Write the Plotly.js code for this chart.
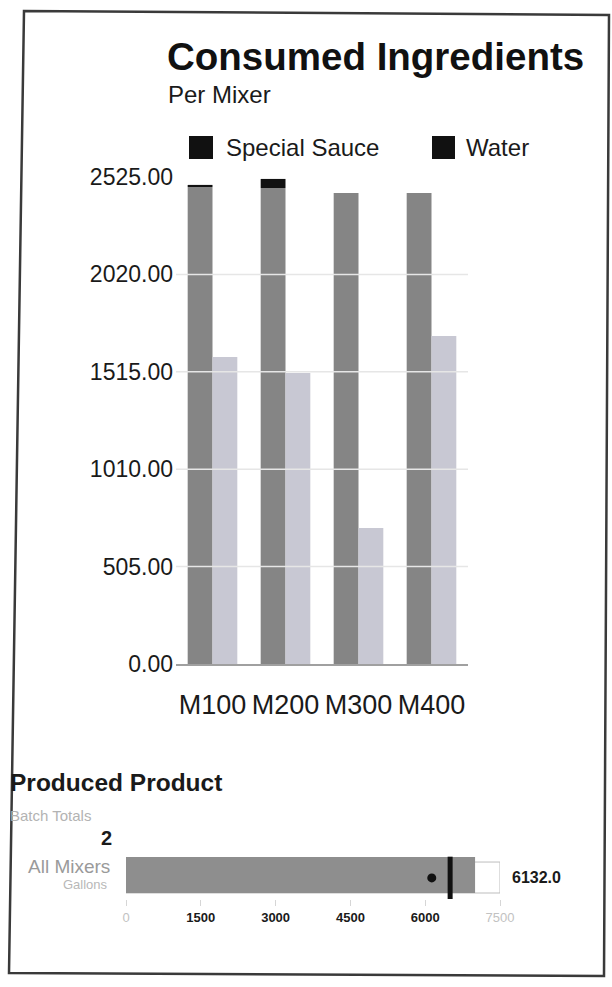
<!DOCTYPE html>
<html>
<head>
<meta charset="utf-8">
<script src="https://cdn.plot.ly/plotly-3.0.1.min.js"></script>
<style>
  html, body { margin: 0; padding: 0; background: #ffffff; }
  #chart { width: 612px; height: 987px; }
</style>
</head>
<body>
<div id="chart"></div>
<script>
// ---- data ----
const mixers = ["M100", "M200", "M300", "M400"];
const sauceValues = [2473, 2468, 2442, 2442];
const sauceTopValues = [11, 47, 0, 0];
const waterValues = [1592, 1509, 705, 1701];
const yTickVals = [0, 505, 1010, 1515, 2020, 2525];

const bulletCategory = ["All Mixers"];
const producedValue = [6132];
const producedBar = [7000];
const rangeMax = [7500];
const targetValue = [6500];
const bulletTickVals = [0, 1500, 3000, 4500, 6000, 7500];
const bulletTickText = ["0", "1500", "3000", "4500", "6000", "7500"];
const batchTotal = "2";

const FONT = "Liberation Sans, Arial, Helvetica, sans-serif";
const W = 612, H = 987;
const px = x => x / W;
const py = y => 1 - y / H;

const traces = [
  {
    type: "bar", name: "Special Sauce", x: mixers, y: sauceValues,
    offsetgroup: "sauce", marker: { color: "#858585" },
    xaxis: "x", yaxis: "y", showlegend: false
  },
  {
    type: "bar", name: "Special Sauce (top)", x: mixers, y: sauceTopValues, base: sauceValues,
    offsetgroup: "sauce", marker: { color: "#111111" },
    xaxis: "x", yaxis: "y", showlegend: false
  },
  {
    type: "bar", name: "Water", x: mixers, y: waterValues,
    offsetgroup: "water", marker: { color: "#c8c8d3" },
    xaxis: "x", yaxis: "y", showlegend: false
  },
  // bullet chart
  {
    type: "bar", orientation: "h", x: rangeMax, y: bulletCategory.map(() => 0),
    offsetgroup: "bullet", offset: -0.75, width: 1.29,
    marker: { color: "#ffffff", line: { color: "#bdbdbd", width: 1 } },
    xaxis: "x2", yaxis: "y2", showlegend: false
  },
  {
    type: "bar", orientation: "h", x: producedBar, y: bulletCategory.map(() => 0),
    offsetgroup: "bullet", offset: -0.75, width: 1.5,
    marker: { color: "#8e8e8e" },
    xaxis: "x2", yaxis: "y2", showlegend: false
  },
  {
    type: "scatter", mode: "markers", x: targetValue, y: [-0.17],
    marker: { symbol: "line-ns", size: 32, line: { color: "#111111", width: 5 } },
    xaxis: "x2", yaxis: "y2", showlegend: false
  },
  {
    type: "scatter", mode: "markers", x: producedValue, y: [-0.12],
    marker: { symbol: "circle", size: 9, color: "#111111" },
    xaxis: "x2", yaxis: "y2", showlegend: false
  }
];

const gridShapes = yTickVals.slice(1, 5).map(v => ({
  type: "line", xref: "paper", yref: "y", x0: px(176), x1: px(468), y0: v, y1: v,
  line: { color: "#e6e6e6", width: 1.5 }, layer: "above"
}));

const framePath = "M " + px(24) + "," + py(11) + " L " + px(609) + "," + py(15) +
  " L " + px(604) + "," + py(976) + " L " + px(9) + "," + py(973) + " Z";

const shapes = gridShapes.concat([
  { type: "rect", xref: "paper", yref: "paper", x0: px(189), x1: px(213), y0: py(159), y1: py(136),
    fillcolor: "#111111", line: { width: 0 } },
  { type: "rect", xref: "paper", yref: "paper", x0: px(432), x1: px(455), y0: py(159), y1: py(136),
    fillcolor: "#111111", line: { width: 0 } },
  { type: "path", xref: "paper", yref: "paper", path: framePath,
    line: { color: "#3a3a3a", width: 2.5 }, fillcolor: "rgba(0,0,0,0)" }
]);

const ann = (text, x, y, size, opts) => Object.assign({
  text: text, xref: "paper", yref: "paper", x: x, y: y, xanchor: "left", yanchor: "middle",
  showarrow: false, font: { family: FONT, size: size, color: "#1a1a1a" }
}, opts || {});

const annotations = [
  ann("Per Mixer", px(166), py(94), 24),
  ann("Special Sauce", px(224), py(147), 24),
  ann("Water", px(464), py(147), 24),
  ann("<b>Produced Product</b>", px(8), py(782), 24.5),
  ann("Batch Totals", px(8), py(815), 15, { font: { family: FONT, size: 15, color: "#b3b3b3" } }),
  ann("<b>" + batchTotal + "</b>", px(114), py(838), 20, { xanchor: "right" }),
  ann(bulletCategory[0], px(112), py(866), 19, { xanchor: "right", font: { family: FONT, size: 19, color: "#9a9a9a" } }),
  ann("Gallons", px(110), py(884), 13, { xanchor: "right", font: { family: FONT, size: 13, color: "#b8b8b8" } }),
  {
    text: "<b>" + producedValue[0].toFixed(1) + "</b>", xref: "x2", yref: "y2",
    x: rangeMax[0], y: -0.12, xanchor: "left", yanchor: "middle", xshift: 10,
    showarrow: false, font: { family: FONT, size: 16, color: "#1a1a1a" }
  }
];

const tickTextStyled = bulletTickText.map((t, i) =>
  (i === 0 || i === bulletTickText.length - 1)
    ? '<span style="color:#c2c2c2;font-weight:normal">' + t + '</span>' : t);

const layout = {
  width: W, height: H,
  margin: { l: 0, r: 0, t: 0, b: 0, pad: 0 },
  paper_bgcolor: "#ffffff", plot_bgcolor: "rgba(0,0,0,0)",
  font: { family: FONT, color: "#1a1a1a" },
  barmode: "group", bargap: 0.32, bargroupgap: 0,
  showlegend: false,
  title: {
    text: "Consumed Ingredients", x: px(167), xanchor: "left", y: py(57), yanchor: "middle",
    xref: "paper", yref: "paper",
    font: { family: FONT, size: 38.5, weight: "bold", color: "#111111" }
  },
  xaxis: {
    domain: [px(176), px(468)], anchor: "y", type: "category", range: [-0.5, 3.5],
    showgrid: false, zeroline: false, showline: true, linecolor: "#a0a0a0", linewidth: 1.5,
    ticks: "", tickangle: 0, tickfont: { family: FONT, size: 27, color: "#1a1a1a" },
    ticklabelstandoff: 16, fixedrange: true
  },
  yaxis: {
    domain: [py(664), py(177)], anchor: "x", range: [0, 2525],
    tickvals: yTickVals, tickformat: ".2f",
    showgrid: false, zeroline: false, showline: false, ticks: "",
    tickfont: { family: FONT, size: 23, color: "#1a1a1a" }, ticklabelstandoff: 2, fixedrange: true
  },
  xaxis2: {
    domain: [px(126), px(500)], anchor: "y2", range: [0, 7500],
    tickvals: bulletTickVals, ticktext: tickTextStyled,
    showgrid: false, zeroline: false, showline: false,
    ticks: "outside", ticklen: 6, tickcolor: "#d6d6d6", tickwidth: 1,
    tickfont: { family: FONT, size: 13, weight: "bold", color: "#1a1a1a" }, ticklabelstandoff: 0, fixedrange: true
  },
  yaxis2: {
    domain: [py(899), py(851)], anchor: "x2", range: [-1, 1],
    visible: false, fixedrange: true
  },
  shapes: shapes,
  annotations: annotations
};

Plotly.newPlot("chart", traces, layout, { displayModeBar: false, staticPlot: true });
</script>
</body>
</html>
